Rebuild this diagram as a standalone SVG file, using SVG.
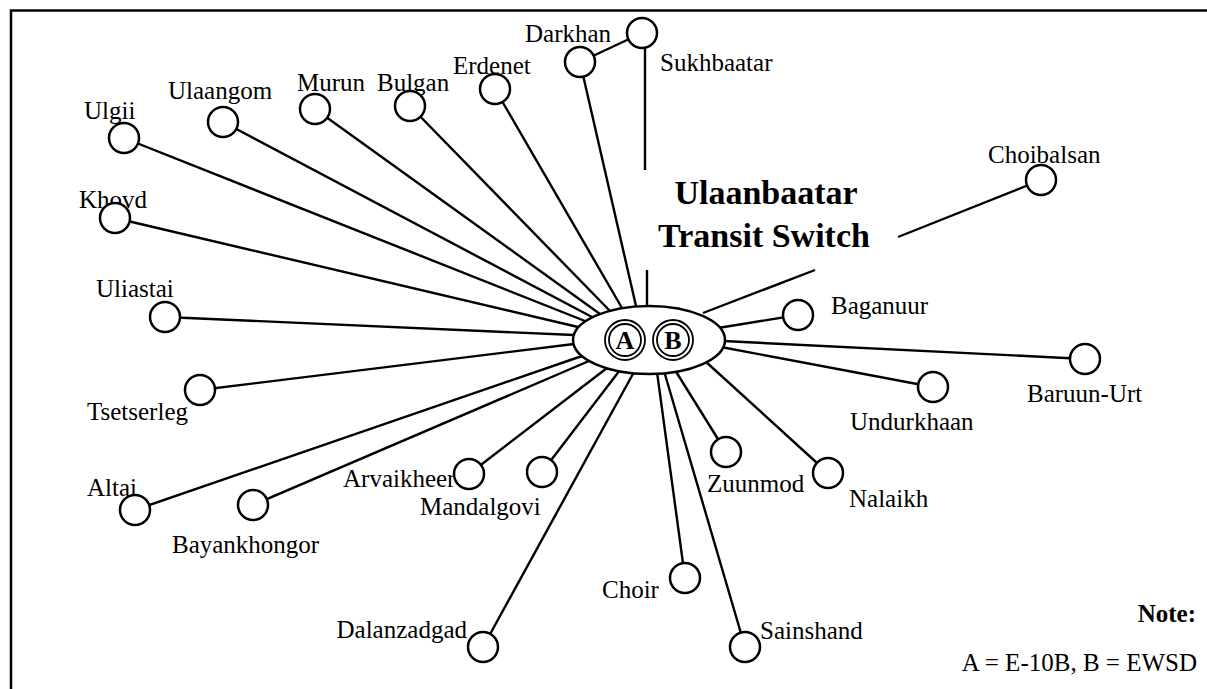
<svg xmlns="http://www.w3.org/2000/svg" width="1207" height="689" viewBox="0 0 1207 689">
  <style>
    .frame { fill: none; stroke: #000; stroke-width: 2.5; }
    .link { stroke: #000; stroke-width: 2.4; fill: none; stroke-linecap: butt; }
    .site { fill: #fff; stroke: #000; stroke-width: 2.5; }
    .lbl { font-family: "Liberation Serif", "Times New Roman", serif; font-size: 25px; fill: #000; }
    .title { font-family: "Liberation Serif", "Times New Roman", serif; font-size: 34px; font-weight: bold; fill: #000; text-anchor: middle; }
    .hub { fill: #fff; stroke: #000; stroke-width: 2.5; }
    .ring { fill: none; stroke: #000; stroke-width: 1.8; }
    .sw { font-family: "Liberation Serif", "Times New Roman", serif; font-size: 26px; font-weight: bold; fill: #000; text-anchor: middle; }
    .note { font-family: "Liberation Serif", "Times New Roman", serif; font-size: 25px; fill: #000; }
  </style>

  <!-- page frame: top and left rules only -->
  <path class="frame" d="M11 689 V10.5 H1207"/>

  <!-- connectors from each exchange to the transit switch -->
  <g id="connectors">
    <line class="link" x1="124" y1="138" x2="585" y2="321"/>
    <line class="link" x1="223" y1="122" x2="592" y2="317"/>
    <line class="link" x1="315" y1="109" x2="600" y2="314"/>
    <line class="link" x1="410" y1="106" x2="610" y2="311"/>
    <line class="link" x1="495" y1="89" x2="622" y2="308"/>
    <line class="link" x1="580" y1="62" x2="636" y2="306"/>
    <line class="link" x1="580" y1="62" x2="642" y2="33"/>
    <line class="link" x1="645" y1="33" x2="645" y2="170"/>
    <line class="link" x1="647" y1="270" x2="647" y2="306"/>
    <line class="link" x1="115" y1="218" x2="578" y2="327"/>
    <line class="link" x1="165" y1="317" x2="574" y2="335"/>
    <line class="link" x1="200" y1="390" x2="574" y2="344"/>
    <line class="link" x1="135" y1="510" x2="582" y2="356"/>
    <line class="link" x1="253" y1="505" x2="589" y2="361"/>
    <line class="link" x1="469" y1="474" x2="607" y2="368"/>
    <line class="link" x1="542" y1="472" x2="620" y2="370"/>
    <line class="link" x1="483" y1="647" x2="634" y2="372"/>
    <line class="link" x1="685" y1="578" x2="657" y2="372"/>
    <line class="link" x1="745" y1="647" x2="664" y2="371"/>
    <line class="link" x1="726" y1="452" x2="675" y2="370"/>
    <line class="link" x1="828" y1="473" x2="705" y2="361"/>
    <line class="link" x1="933" y1="387" x2="721" y2="347"/>
    <line class="link" x1="1085" y1="359" x2="723" y2="341"/>
    <line class="link" x1="798" y1="315" x2="718" y2="328"/>
    <line class="link" x1="1041" y1="180" x2="898" y2="237"/>
    <line class="link" x1="815" y1="270" x2="703" y2="313"/>
  </g>

  <!-- transit switch -->
  <g id="ulaanbaatar">
    <text class="title" x="766" y="204">Ulaanbaatar</text>
    <text class="title" x="764" y="247">Transit Switch</text>
    <ellipse class="hub" cx="649" cy="340" rx="76" ry="34"/>
    <circle class="ring" cx="625" cy="340" r="20"/>
    <circle class="ring" cx="625" cy="340" r="16"/>
    <text class="sw" x="625" y="349">A</text>
    <circle class="ring" cx="673" cy="340" r="20"/>
    <circle class="ring" cx="673" cy="340" r="16"/>
    <text class="sw" x="673" y="349">B</text>
  </g>

  <!-- exchanges -->
  <g id="ulgii"><text class="lbl" x="84" y="119">Ulgii</text><circle class="site" cx="124" cy="138" r="15"/></g>
  <g id="ulaangom"><text class="lbl" x="168" y="99">Ulaangom</text><circle class="site" cx="223" cy="122" r="15"/></g>
  <g id="murun"><text class="lbl" x="297" y="91">Murun</text><circle class="site" cx="315" cy="109" r="15"/></g>
  <g id="bulgan"><text class="lbl" x="377" y="91">Bulgan</text><circle class="site" cx="410" cy="106" r="15"/></g>
  <g id="erdenet"><text class="lbl" x="453" y="74">Erdenet</text><circle class="site" cx="495" cy="89" r="15"/></g>
  <g id="darkhan"><text class="lbl" x="525" y="42">Darkhan</text><circle class="site" cx="580" cy="62" r="15"/></g>
  <g id="sukhbaatar"><text class="lbl" x="660" y="71">Sukhbaatar</text><circle class="site" cx="642" cy="33" r="15"/></g>
  <g id="khovd"><text class="lbl" x="79" y="208">Khovd</text><circle class="site" cx="115" cy="218" r="15"/></g>
  <g id="uliastai"><text class="lbl" x="96" y="297">Uliastai</text><circle class="site" cx="165" cy="317" r="15"/></g>
  <g id="tsetserleg"><text class="lbl" x="87" y="420">Tsetserleg</text><circle class="site" cx="200" cy="390" r="15"/></g>
  <g id="altai"><text class="lbl" x="87" y="496">Altai</text><circle class="site" cx="135" cy="510" r="15"/></g>
  <g id="bayankhongor"><text class="lbl" x="172" y="553">Bayankhongor</text><circle class="site" cx="253" cy="505" r="15"/></g>
  <g id="arvaikheer"><text class="lbl" x="343" y="487">Arvaikheer</text><circle class="site" cx="469" cy="474" r="15"/></g>
  <g id="mandalgovi"><text class="lbl" x="420" y="515">Mandalgovi</text><circle class="site" cx="542" cy="472" r="15"/></g>
  <g id="dalanzadgad"><text class="lbl" x="467" y="638" text-anchor="end">Dalanzadgad</text><circle class="site" cx="483" cy="647" r="15"/></g>
  <g id="choir"><text class="lbl" x="602" y="598">Choir</text><circle class="site" cx="685" cy="578" r="15"/></g>
  <g id="sainshand"><text class="lbl" x="760" y="639">Sainshand</text><circle class="site" cx="745" cy="647" r="15"/></g>
  <g id="zuunmod"><text class="lbl" x="707" y="492">Zuunmod</text><circle class="site" cx="726" cy="452" r="15"/></g>
  <g id="nalaikh"><text class="lbl" x="849" y="507">Nalaikh</text><circle class="site" cx="828" cy="473" r="15"/></g>
  <g id="undurkhaan"><text class="lbl" x="850" y="430">Undurkhaan</text><circle class="site" cx="933" cy="387" r="15"/></g>
  <g id="baruun-urt"><text class="lbl" x="1027" y="402">Baruun-Urt</text><circle class="site" cx="1085" cy="359" r="15"/></g>
  <g id="baganuur"><text class="lbl" x="831" y="314">Baganuur</text><circle class="site" cx="798" cy="315" r="15"/></g>
  <g id="choibalsan"><text class="lbl" x="988" y="163">Choibalsan</text><circle class="site" cx="1041" cy="180" r="15"/></g>

  <!-- legend -->
  <g id="note">
    <text class="note" x="1196" y="622" text-anchor="end" font-weight="bold">Note:</text>
    <text class="note" x="1197" y="671" text-anchor="end">A = E-10B, B = EWSD</text>
  </g>
</svg>
